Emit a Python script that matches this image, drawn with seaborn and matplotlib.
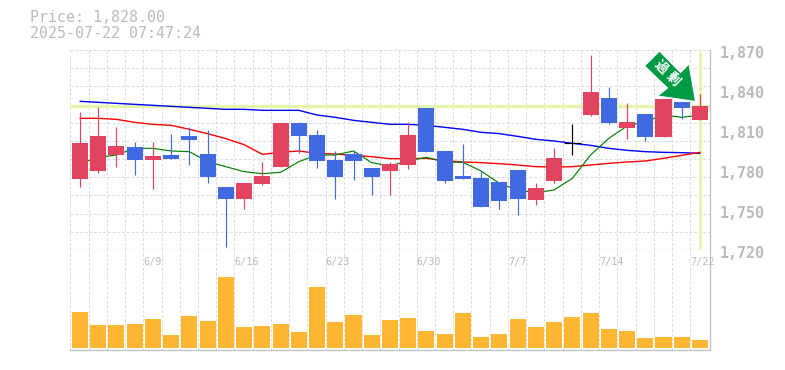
import numpy as np
import pandas as pd
import seaborn as sns
import matplotlib
matplotlib.use("Agg")
import matplotlib.pyplot as plt
from matplotlib.patches import Polygon
from matplotlib.transforms import Affine2D

W, H = 785, 370

# Daily prices (yen)
opens = [1773.25, 1779.25, 1791.25, 1797.25, 1787.5, 1791.25, 1805.5, 1792.0, 1767.25, 1758.25,
         1769.5, 1782.25, 1815.25, 1806.25, 1787.5, 1792.0, 1781.5, 1779.25, 1783.75, 1826.5,
         1794.25, 1775.5, 1774.0, 1771.0, 1780.0, 1757.5, 1771.75, 1800.0, 1821.25, 1834.0,
         1811.5, 1822.0, 1804.75, 1831.25, 1817.5]
highs = [1823.5, 1827.25, 1812.25, 1801.0, 1801.0, 1807.0, 1812.0, 1810.0, 1767.25, 1770.25,
         1786.0, 1815.25, 1816.0, 1810.0, 1794.25, 1794.25, 1781.5, 1786.0, 1816.0, 1826.5,
         1794.25, 1799.5, 1779.25, 1771.0, 1780.0, 1770.25, 1796.5, 1814.5, 1866.25, 1842.25,
         1830.25, 1822.0, 1833.25, 1831.25, 1837.0]
lows = [1767.5, 1778.0, 1782.5, 1776.5, 1766.0, 1788.25, 1783.75, 1770.25, 1722.5, 1750.75,
        1769.0, 1782.25, 1792.75, 1781.5, 1758.25, 1772.5, 1761.25, 1761.25, 1780.75, 1793.5,
        1770.25, 1773.25, 1752.25, 1750.75, 1746.25, 1753.75, 1770.25, 1791.25, 1820.5, 1814.5,
        1803.25, 1801.75, 1804.75, 1818.25, 1817.5]
closes = [1800.25, 1805.5, 1798.0, 1787.5, 1790.5, 1788.25, 1802.5, 1774.75, 1758.25, 1770.25,
          1775.5, 1815.25, 1805.5, 1786.75, 1774.75, 1786.75, 1774.75, 1784.5, 1806.25, 1793.5,
          1771.75, 1773.25, 1752.25, 1756.75, 1758.25, 1766.5, 1789.0, 1800.0, 1838.5, 1815.25,
          1816.0, 1804.75, 1833.25, 1826.5, 1828.0]
# Moving averages
ma_short = [1785.0, 1789.5, 1791.25, 1796.25, 1796.25, 1794.25, 1793.75, 1786.25, 1782.5, 1778.75,
            1777.25, 1778.25, 1786.25, 1791.25, 1791.25, 1794.25, 1785.5, 1783.0, 1787.0, 1789.5,
            1786.0, 1785.75, 1779.25, 1770.0, 1765.0, 1763.0, 1765.0, 1773.75, 1791.25, 1803.75,
            1813.0, 1816.25, 1821.25, 1819.5, 1821.25]
ma_mid = [1818.75, 1818.75, 1818.0, 1815.75, 1814.25, 1813.5, 1810.5, 1807.25, 1803.5, 1799.0,
          1791.75, 1793.25, 1794.25, 1792.5, 1792.0, 1791.0, 1790.0, 1788.5, 1788.5, 1788.75,
          1787.0, 1786.0, 1785.5, 1784.75, 1783.75, 1782.5, 1782.25, 1782.5, 1783.75, 1785.0,
          1786.0, 1786.75, 1788.75, 1791.0, 1793.25]
ma_long = [1831.5, 1830.75, 1830.0, 1829.25, 1828.5, 1827.75, 1827.0, 1826.25, 1825.5, 1825.5,
           1824.75, 1824.75, 1824.75, 1821.25, 1819.5, 1817.25, 1815.75, 1814.25, 1814.25, 1813.5,
           1812.0, 1810.5, 1808.25, 1807.25, 1805.25, 1803.0, 1801.75, 1800.0, 1798.5, 1796.25,
           1794.75, 1793.75, 1793.25, 1793.0, 1792.5]
volumes = [36, 23, 23, 24, 29, 13, 32, 27, 71, 21, 22, 24, 16, 61, 26, 33, 13, 28, 30, 17,
           14, 35, 11, 14, 29, 21, 26, 31, 35, 19, 17, 10, 11, 11, 8]
date_idx = [4, 9, 14, 19, 24, 29, 34]
date_labels = ["6/9", "6/16", "6/23", "6/30", "7/7", "7/14", "7/22"]
price_ticks = [1720, 1750, 1780, 1810, 1840, 1870]
last_price = 1828
title_lines = ["Price: 1,828.00", "2025-07-22 07:47:24"]
arrow_label = "過剰"

UP, DOWN, DOJI = "#e2445f", "#4169e1", "#000000"
GRID, AXIS, TXT = "#dcdcdc", "#c0c0c0", "#bbbbbb"
HILITE = "#e4f5ac"
MONO = "DejaVu Sans Mono"
DASH = (0, (2.7, 1.8))

sns.set_theme(style="white", rc={"font.family": MONO})
fig = plt.figure(figsize=(W / 100, H / 100), dpi=100, facecolor="white")


def axes_px(l, t, r, b):
    return fig.add_axes([l / W, 1 - b / H, (r - l) / W, (b - t) / H])


ax = axes_px(70, 50, 710, 250)
vx = axes_px(70, 250, 710, 350)

df = pd.DataFrame(dict(i=np.arange(len(opens)), o=opens, h=highs, l=lows, c=closes,
                       s=ma_short, m=ma_mid, g=ma_long, v=volumes))

XLIM = (-0.548, 34.55)
GRID_SHIFT = -0.53
grid_x = np.arange(35) + GRID_SHIFT

for a in (ax, vx):
    a.set_xlim(*XLIM)
    a.set_axisbelow(True)
    a.set_xticks(grid_x)
    a.tick_params(left=False, bottom=False, labelleft=False, labelbottom=False)
    a.grid(True, axis="x", color=GRID, ls=DASH, lw=0.75)
    for side in ("left", "top"):
        a.spines[side].set_visible(False)
    for side in ("right", "bottom"):
        a.spines[side].set_color(AXIS)
        a.spines[side].set_linewidth(0.9)

ax.set_ylim(1720, 1870)
ax.set_yticks(1720 + np.arange(0, 12) * 150 / 11)
ax.grid(True, axis="y", color=GRID, ls=DASH, lw=0.75)
ax.plot([0, 1], [1, 1], transform=ax.transAxes, color=GRID, ls=DASH, lw=0.75, clip_on=False)

# highlight of the latest price and date
ax.axhline(last_price, color=HILITE, lw=2.3, zorder=1)
ax.plot([34, 34], [1721, 1869], color=HILITE, lw=2.1, zorder=1, solid_capstyle="butt")

# moving averages
sns.lineplot(data=df, x="i", y="g", ax=ax, color="#0000ff", lw=1.0, zorder=2, errorbar=None)
sns.lineplot(data=df, x="i", y="m", ax=ax, color="#ff0000", lw=1.0, zorder=2, errorbar=None)
sns.lineplot(data=df, x="i", y="s", ax=ax, color="#008000", lw=0.85, zorder=2, errorbar=None)

# candles
for row in df.itertuples():
    if row.o == row.c:
        col = DOJI
    elif row.c > row.o:
        col = UP
    else:
        col = DOWN
    ax.vlines(row.i, row.l, row.h, color=col, lw=0.85, zorder=3)
    if row.o == row.c:
        ax.hlines(row.o, row.i - 0.45, row.i + 0.45, color=col, lw=0.85, zorder=3)
    else:
        ax.bar(row.i, abs(row.c - row.o), bottom=min(row.o, row.c), width=0.88,
               color=col, lw=0, zorder=3)

ax.set_xlabel("")
ax.set_ylabel("")

# arrow badge
arrow_px = np.array([[659.5, 51], [644.5, 66], [667.5, 88], [657.5, 96], [695.5, 101.5],
                     [689, 64], [680.5, 72.5]])
arrow_tf = Affine2D().scale(1, -1).translate(0, H)
fig.add_artist(Polygon(arrow_px, closed=True, facecolor="#009944", edgecolor="white", lw=0.8,
                       transform=arrow_tf, zorder=6))
for ch, (px, py) in zip(arrow_label, [(660.7, 67.3), (673.3, 79.3)]):
    fig.text(px / W, 1 - py / H, ch, rotation=-45, ha="center", va="center", color="white",
             fontsize=9.5, fontweight="bold", family=["Noto Sans CJK JP", "DejaVu Sans"],
             rotation_mode="anchor", zorder=7)

# volume
vx.set_ylim(-2, 98)
sns.barplot(data=df, x="i", y="v", ax=vx, native_scale=True, color="#ffb733", width=0.88,
            saturation=1, lw=0, zorder=3, errorbar=None)
vx.set_xlim(*XLIM)
vx.set_xlabel("")
vx.set_ylabel("")

# text
for i, lab in zip(date_idx, date_labels):
    vx.annotate(lab, xy=(i + GRID_SHIFT, 1), xycoords=("data", "axes fraction"),
                xytext=(0, -11.5 * 0.72), textcoords="offset points", ha="left", va="center",
                color=TXT, fontsize=7.3, family=MONO, annotation_clip=False)

for p in price_ticks:
    ax.annotate(f"{p:,}", xy=(1, p), xycoords=("axes fraction", "data"),
                xytext=(10 * 0.72, -3 * 0.72), textcoords="offset points", ha="left", va="center",
                color=TXT, fontsize=10.8, family=MONO, fontweight="bold", annotation_clip=False)

fig.text(30 / W, 1 - 18 / H, title_lines[0], ha="left", va="center", color=TXT, fontsize=10.8, family=MONO)
fig.text(30 / W, 1 - 33 / H, title_lines[1], ha="left", va="center", color=TXT, fontsize=10.8, family=MONO)

fig.savefig("out.png", dpi=100, facecolor="white")
